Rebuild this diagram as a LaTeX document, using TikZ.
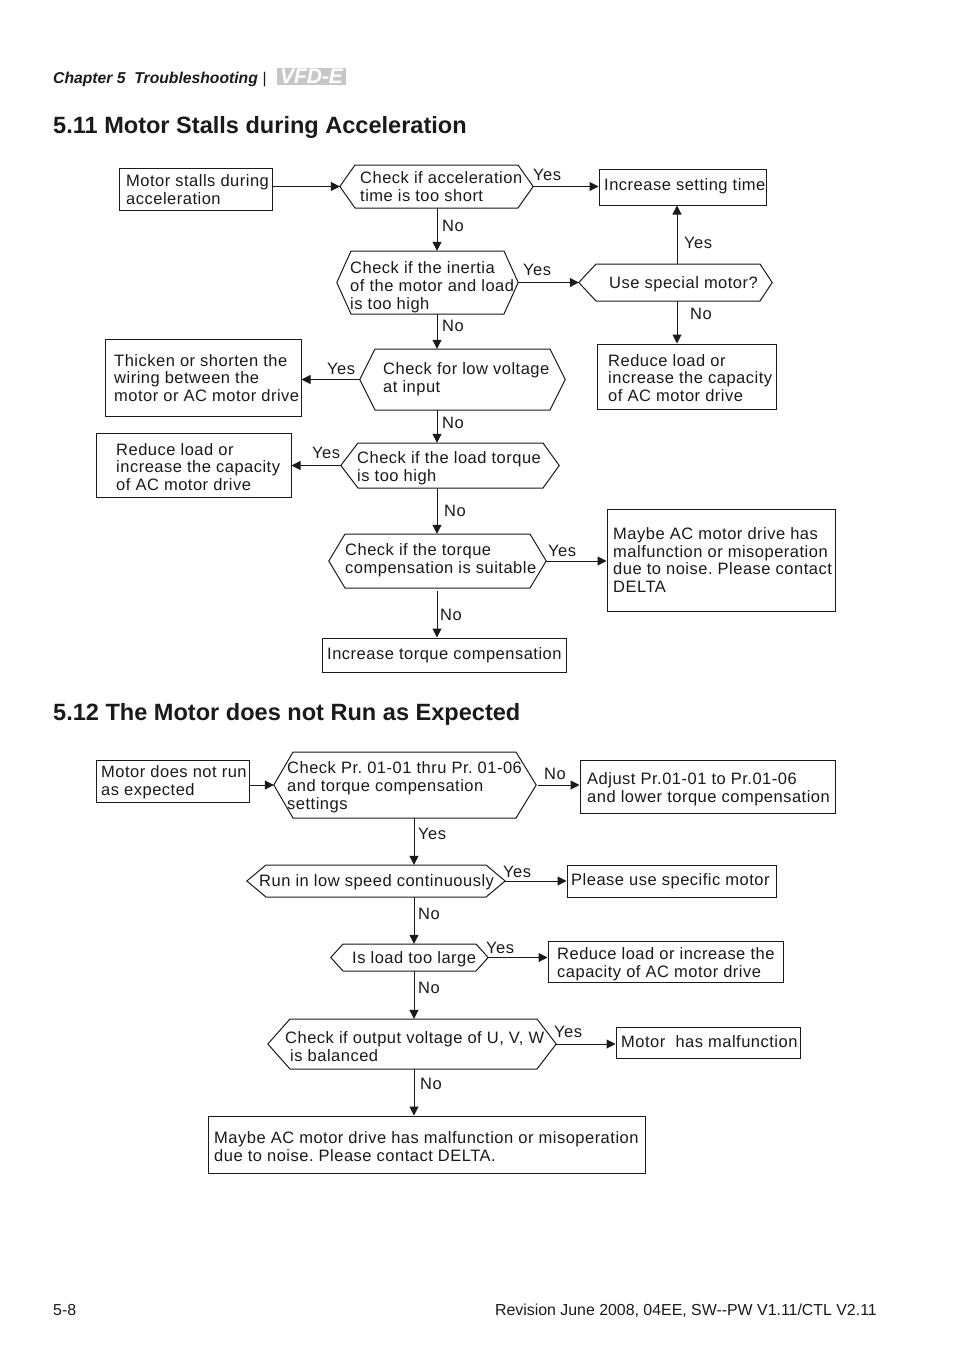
\documentclass[tikz,border=0pt]{standalone}
\usepackage{fontspec}
\setmainfont{Liberation Sans}
\newfontfamily\lab[LetterSpace=3]{Liberation Sans}
\usetikzlibrary{arrows.meta}
\definecolor{ink}{HTML}{1A1A1A}
\frenchspacing
\tikzset{
  flowline/.style={draw=ink,line width=1pt},
  arr/.style={flowline,-{Triangle[length=9pt,width=9pt]}},
  boxnode/.style={flowline,inner sep=0pt},
  txt/.style={anchor=west,inner sep=0pt,align=left,text=ink,font=\fontsize{16.5}{17.8}\selectfont\frenchspacing\lab},
  ans/.style={anchor=west,inner sep=0pt,text=ink,font=\fontsize{16.5}{17.8}\selectfont\lab},
  head/.style={anchor=base west,inner sep=0pt,text=ink,font=\fontsize{23.55}{28}\selectfont\bfseries},
  foot/.style={inner sep=0pt,text=ink,font=\fontsize{15.9}{18}\selectfont},
}
% name, x1, y1, x2, y2
\newcommand\bx[5]{%
  \pgfmathsetmacro\cxx{(#2+#4)/2}\pgfmathsetmacro\cyy{(#3+#5)/2}%
  \pgfmathsetmacro\ww{#4-#2}\pgfmathsetmacro\hh{#5-#3}%
  \node[boxnode,rectangle,minimum width=\ww pt,minimum height=\hh pt] (#1) at (\cxx,\cyy) {};}
% name, left, topleft, topright, right, top, bottom
\newcommand\hex[7]{%
  \pgfmathsetmacro\cxx{(#2+#5)/2}\pgfmathsetmacro\cyy{(#6+#7)/2}%
  \pgfmathsetmacro\ww{#5-#2}\pgfmathsetmacro\hh{#7-#6}%
  \node[inner sep=0pt,minimum width=\ww pt,minimum height=\hh pt] (#1) at (\cxx,\cyy) {};
  \draw[flowline] (#1.west) -- (#3,#6) -- (#4,#6) -- (#1.east) -- (#4,#7) -- (#3,#7) -- cycle;}
\newcommand\lbl[4]{\node[txt] (#1) at (#2,#3) {#4};}
\newcommand\ansl[4]{\node[ans] (#1) at (#2,#3) {#4};}
\begin{document}
\begin{tikzpicture}[x=1pt,y=-1pt]
\useasboundingbox (0,0) rectangle (954,1357);
\fill[white] (0,0) rectangle (954,1357);
% header
\node[anchor=base west,inner sep=0pt,text=ink,font=\fontsize{15.7}{18}\selectfont\bfseries\itshape] (chap) at (53,83) {Chapter 5\ \ Troubleshooting};
\node[anchor=base west,inner sep=0pt,text=ink,font=\fontsize{15.5}{18}\selectfont] (bar) at (262.5,83) {|};
\node[fill=black!22,minimum width=69pt,minimum height=17pt,inner sep=0pt,text=white,font=\fontsize{21}{21}\selectfont\bfseries\itshape] (logo) at (311.5,76.5) {VFD-E};
\node[head] (h1) at (53,133) {5.11 Motor Stalls during Acceleration};
\node[head] (h2) at (53,720) {5.12 The Motor does not Run as Expected};
\node[foot,anchor=base west] (pg) at (53,1315) {5-8};
\node[foot,anchor=base east] (rev) at (877,1315) {Revision June 2008, 04EE, SW-{}-PW V1.11/CTL V2.11};
\coordinate (colA) at (437,0);
\coordinate (colB) at (677,0);
\coordinate (colC) at (414,0);
% section 1
\bx{a}{119}{168}{272}{210}
\lbl{at}{126}{190}{Motor stalls during\\acceleration}
\hex{b}{340}{355}{518}{533}{165}{208}
\lbl{bt}{360}{186.5}{Check if acceleration\\time is too short}
\bx{c}{599}{169}{766}{205}
\lbl{ct}{604}{186}{Increase setting time}
\hex{d}{337}{351}{504}{518}{251}{314}
\lbl{dt}{350}{287}{Check if the inertia\\of the motor and load\\is too high}
\hex{e}{579}{596}{760}{772}{264}{301}
\lbl{et}{609}{284}{Use special motor?}
\bx{f}{597}{344}{776}{409}
\lbl{ft}{608}{378}{Reduce load or\\increase the capacity\\of AC motor drive}
\hex{g}{360}{375}{550}{565}{349}{410}
\lbl{gt}{383}{379}{Check for low voltage\\at input}
\bx{h}{105}{339}{301}{416}
\lbl{ht}{114}{378}{Thicken or shorten the\\wiring between the\\motor or AC motor drive}
\hex{i}{341}{358}{543}{559}{443}{488}
\lbl{it}{357}{468.5}{Check if the load torque\\is too high}
\bx{j}{96}{433}{291}{497}
\lbl{jt}{116}{467}{Reduce load or\\increase the capacity\\of AC motor drive}
\hex{k}{329}{345}{530}{546}{534}{588}
\lbl{kt}{345}{560}{Check if the torque\\compensation is suitable}
\bx{l}{607}{509}{835}{611}
\lbl{lt}{613}{560}{Maybe AC motor drive has\\malfunction or misoperation\\due to noise. Please contact\\DELTA}
\bx{m}{322}{638}{566}{672}
\lbl{mt}{327}{655.5}{Increase torque compensation}
\coordinate (kout) at (437,591);
\draw[arr] (a.east |- b.west) -- (b.west);
\draw[arr] (b.east) -- (b.east -| c.west);
\draw[arr] (colA |- b.south) -- (colA |- d.north);
\draw[arr] (d.east) -- (d.east -| e.west);
\draw[arr] (colB |- e.north) -- (colB |- c.south);
\draw[arr] (colB |- e.south) -- (colB |- f.north);
\draw[arr] (colA |- d.south) -- (colA |- g.north);
\draw[arr] (g.west) -- (g.west -| h.east);
\draw[arr] (colA |- g.south) -- (colA |- i.north);
\draw[arr] (i.west) -- (i.west -| j.east);
\draw[arr] (colA |- i.south) -- (colA |- k.north);
\draw[arr] (k.east) -- (k.east -| l.west);
\draw[arr] (kout) -- (kout |- m.north);
\ansl{y1}{533}{175}{Yes}
\ansl{n1}{442}{226}{No}
\ansl{y2}{523}{270}{Yes}
\ansl{y3}{684}{243}{Yes}
\ansl{n2}{690}{314}{No}
\ansl{n3}{442}{326}{No}
\ansl{y4}{327}{369}{Yes}
\ansl{n4}{442}{423}{No}
\ansl{y5}{312}{453}{Yes}
\ansl{n5}{444}{511}{No}
\ansl{y6}{548}{551}{Yes}
\ansl{n6}{440}{615}{No}
% section 2
\bx{p1}{96}{760}{249}{802}
\lbl{p1t}{101}{782.5}{Motor does not run\\as expected}
\hex{o}{274}{293}{516}{536}{752}{818}
\lbl{ot}{287}{787}{Check Pr. 01-01 thru Pr. 01-06\\and torque compensation\\settings}
\bx{p}{580}{760}{835}{813}
\lbl{pt}{587}{789}{Adjust Pr.01-01 to Pr.01-06\\and lower torque compensation}
\hex{q}{247}{266}{486}{505}{865}{897}
\lbl{qt}{259}{882.5}{Run in low speed continuously}
\bx{r}{567}{865}{776}{897}
\lbl{rt}{571}{881.5}{Please use specific motor}
\hex{s}{331}{343}{476}{488}{944}{971}
\lbl{st}{352}{959.5}{Is load too large}
\bx{t}{548}{941}{783}{982}
\lbl{tt}{557}{964}{Reduce load or increase the\\capacity of AC motor drive}
\hex{u}{268}{290}{537}{556}{1019}{1069}
\lbl{ut}{285}{1046.5}{Check if output voltage of U, V, W\\\hspace*{5pt}is balanced}
\bx{v}{616}{1027}{800}{1058}
\lbl{vt}{621}{1041.5}{Motor\ \ has malfunction}
\bx{w}{208}{1116}{645}{1173}
\lbl{wt}{214}{1146.5}{Maybe AC motor drive has malfunction or misoperation\\due to noise. Please contact DELTA.}
\coordinate (oout) at (538,785);
\draw[arr] (p1.east |- o.west) -- (o.west);
\draw[arr] (oout) -- (oout -| p.west);
\draw[arr] (colC |- o.south) -- (colC |- q.north);
\draw[arr] (q.east) -- (q.east -| r.west);
\draw[arr] (colC |- q.south) -- (colC |- s.north);
\draw[arr] (s.east) -- (s.east -| t.west);
\draw[arr] (colC |- s.south) -- (colC |- u.north);
\draw[arr] (u.east) -- (u.east -| v.west);
\draw[arr] (colC |- u.south) -- (colC |- w.north);
\ansl{n7}{544}{774}{No}
\ansl{y7}{418}{834}{Yes}
\ansl{y8}{503}{872}{Yes}
\ansl{n8}{418}{914}{No}
\ansl{y9}{486}{948}{Yes}
\ansl{n9}{418}{988}{No}
\ansl{y10}{554}{1032}{Yes}
\ansl{n10}{420}{1084}{No}
\end{tikzpicture}
\end{document}
